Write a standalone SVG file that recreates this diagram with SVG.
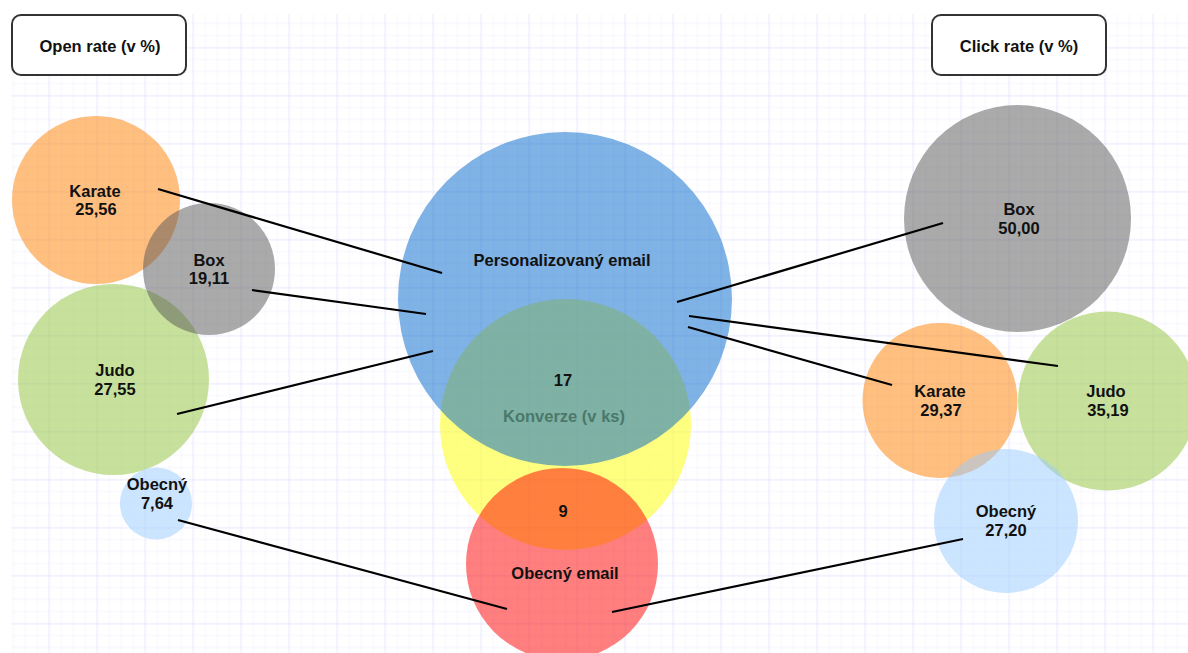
<svg xmlns="http://www.w3.org/2000/svg" width="1188" height="653" viewBox="0 0 1188 653">
  <style>
    .lbl { font-family: "Liberation Sans", Arial, sans-serif; font-weight: bold; font-size: 16.5px; fill: #111; text-anchor: middle; }
    .ttl { font-family: "Liberation Sans", Arial, sans-serif; font-weight: bold; font-size: 16.5px; fill: #111; text-anchor: middle; }
    .conn { stroke: #000; stroke-width: 2.2; fill: none; stroke-linecap: butt; }
    .c { fill-opacity: 0.5; stroke: none; }
    .box { fill: #fff; stroke: #333; stroke-width: 2; }
  </style>
  <defs>
    <pattern id="minor" x="0.5" y="-0.5" width="12" height="12" patternUnits="userSpaceOnUse">
      <path d="M0 0 V12 M0 0 H12" stroke="#E9E9FD" stroke-width="1" fill="none"/>
    </pattern>
    <pattern id="major" x="0.5" y="-0.5" width="48" height="48" patternUnits="userSpaceOnUse">
      <rect width="48" height="48" fill="url(#minor)"/>
      <path d="M0 0 V48 M0 0 H48" stroke="#DEDEFA" stroke-width="1" fill="none"/>
    </pattern>
  </defs>
  <rect width="1188" height="653" fill="#fff"/>
  <rect x="11" y="14" width="1177" height="639" fill="url(#major)"/>

  <g id="box-open-rate">
    <rect class="box" x="12" y="15" width="174" height="60" rx="9"/>
    <text class="ttl" x="100" y="52">Open rate (v %)</text>
  </g>
  <g id="box-click-rate">
    <rect class="box" x="932" y="15" width="174" height="60" rx="9"/>
    <text class="ttl" x="1019" y="52">Click rate (v %)</text>
  </g>

  <!-- center -->
  <g id="konverze">
    <circle class="c" cx="565.5" cy="424.5" r="125.5" fill="#FFFF00"/>
    <text class="lbl" x="564" y="422" style="fill:#968A06">Konverze (v ks)</text>
  </g>
  <g id="personalizovany-email">
    <circle class="c" cx="565" cy="299" r="167" fill="#0066CC"/>
    <text class="lbl" x="562" y="266">Personalizovaný email</text>
    <text class="lbl" x="563" y="386">17</text>
  </g>
  <g id="obecny-email">
    <circle class="c" cx="562" cy="564" r="96" fill="#FF0000"/>
    <text class="lbl" x="563" y="517">9</text>
    <text class="lbl" x="565" y="579">Obecný email</text>
  </g>

  <!-- left: open rate -->
  <g id="or-karate">
    <circle class="c" cx="96" cy="200" r="84" fill="#FF8000"/>
    <text class="lbl" x="95" y="197">Karate</text>
    <text class="lbl" x="96" y="215">25,56</text>
  </g>
  <g id="or-judo">
    <circle class="c" cx="113.5" cy="379.5" r="95.5" fill="#8FC43A"/>
    <text class="lbl" x="115" y="376">Judo</text>
    <text class="lbl" x="115" y="395">27,55</text>
  </g>
  <g id="or-box">
    <circle class="c" cx="209" cy="269" r="66" fill="#555555"/>
    <text class="lbl" x="209" y="266">Box</text>
    <text class="lbl" x="209" y="284">19,11</text>
  </g>
  <g id="or-obecny">
    <circle class="c" cx="156" cy="503.5" r="36" fill="#99CCFF"/>
    <text class="lbl" x="157" y="490">Obecný</text>
    <text class="lbl" x="157" y="509">7,64</text>
  </g>

  <!-- right: click rate -->
  <g id="cr-box">
    <circle class="c" cx="1017.5" cy="218.5" r="113.5" fill="#555555"/>
    <text class="lbl" x="1019" y="215">Box</text>
    <text class="lbl" x="1019" y="234">50,00</text>
  </g>
  <g id="cr-karate">
    <circle class="c" cx="940" cy="400.5" r="77.5" fill="#FF8000"/>
    <text class="lbl" x="940" y="397">Karate</text>
    <text class="lbl" x="941" y="416">29,37</text>
  </g>
  <g id="cr-judo">
    <circle class="c" cx="1107.5" cy="401" r="89.5" fill="#8FC43A"/>
    <text class="lbl" x="1106" y="397">Judo</text>
    <text class="lbl" x="1108" y="416">35,19</text>
  </g>
  <g id="cr-obecny">
    <circle class="c" cx="1006" cy="521" r="72" fill="#99CCFF"/>
    <text class="lbl" x="1006" y="517">Obecný</text>
    <text class="lbl" x="1006" y="536">27,20</text>
  </g>

  <g id="connectors">
    <line class="conn" x1="158" y1="189" x2="442" y2="273"/>
    <line class="conn" x1="252" y1="290" x2="426" y2="314"/>
    <line class="conn" x1="177" y1="414" x2="433" y2="351"/>
    <line class="conn" x1="178" y1="520" x2="507" y2="609"/>
    <line class="conn" x1="677" y1="302" x2="943" y2="223"/>
    <line class="conn" x1="689" y1="316" x2="1058" y2="366"/>
    <line class="conn" x1="688" y1="327" x2="892" y2="385"/>
    <line class="conn" x1="963" y1="539" x2="612" y2="612"/>
  </g>
</svg>
